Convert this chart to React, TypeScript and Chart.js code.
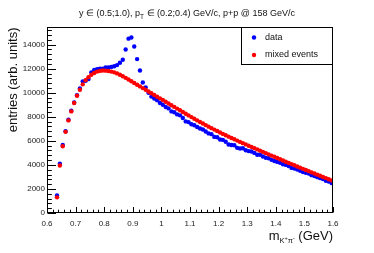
import React, { useEffect, useRef } from "react";
import { Chart, registerables } from "chart.js";

Chart.register(...registerables);

// ---- data ----
const massBins = [
  0.635, 0.645, 0.655, 0.665, 0.675, 0.685, 0.695, 0.705, 0.715, 0.725,
  0.735, 0.745, 0.755, 0.765, 0.775, 0.785, 0.795, 0.805, 0.815, 0.825,
  0.835, 0.845, 0.855, 0.865, 0.875, 0.885, 0.895, 0.905, 0.915, 0.925,
  0.935, 0.945, 0.955, 0.965, 0.975, 0.985, 0.995, 1.005, 1.015, 1.025,
  1.035, 1.045, 1.055, 1.065, 1.075, 1.085, 1.095, 1.105, 1.115, 1.125,
  1.135, 1.145, 1.155, 1.165, 1.175, 1.185, 1.195, 1.205, 1.215, 1.225,
  1.235, 1.245, 1.255, 1.265, 1.275, 1.285, 1.295, 1.305, 1.315, 1.325,
  1.335, 1.345, 1.355, 1.365, 1.375, 1.385, 1.395, 1.405, 1.415, 1.425,
  1.435, 1.445, 1.455, 1.465, 1.475, 1.485, 1.495, 1.505, 1.515, 1.525,
  1.535, 1.545, 1.555, 1.565, 1.575, 1.585, 1.595,
];

const dataCounts = [
  1450, 4100, 5650, 6800, 7750, 8500, 9200, 9800, 10350, 10950,
  11000, 11150, 11700, 11900, 11950, 12000, 12000, 12100, 12100, 12150,
  12200, 12300, 12500, 12750, 13600, 14500, 14600, 13850, 12800, 11850,
  10850, 10450, 10000, 9680, 9520, 9380, 9150, 9000, 8820, 8700,
  8450, 8380, 8200, 8120, 7900, 7620, 7560, 7380, 7300, 7150,
  7030, 6950, 6780, 6620, 6560, 6330, 6300, 6110, 6080, 5920,
  5700, 5650, 5640, 5420, 5360, 5380, 5220, 5150, 5120, 5000,
  4850, 4850, 4700, 4600, 4550, 4420, 4330, 4250, 4180, 4060,
  4000, 3900, 3750, 3700, 3620, 3520, 3400, 3350, 3280, 3150,
  3080, 2980, 2900, 2820, 2680, 2620, 2500,
];

const mixedCounts = [
  1300, 3950, 5550, 6750, 7700, 8450, 9150, 9750, 10250, 10700,
  11050, 11300, 11500, 11650, 11760, 11820, 11850, 11840, 11810, 11760,
  11700, 11610, 11500, 11375, 11240, 11098, 10956, 10814, 10672, 10530,
  10388, 10246, 10104, 9962, 9820, 9678, 9536, 9394, 9252, 9110,
  8968, 8826, 8684, 8542, 8400, 8258, 8116, 7976, 7838, 7703,
  7570, 7439, 7310, 7183, 7058, 6935, 6814, 6695, 6578, 6463,
  6350, 6239, 6130, 6022, 5915, 5809, 5704, 5599, 5496, 5393,
  5290, 5187, 5084, 4981, 4878, 4776, 4674, 4572, 4470, 4369,
  4268, 4167, 4066, 3968, 3870, 3772, 3674, 3577, 3480, 3383,
  3286, 3190, 3094, 2998, 2902, 2807, 2712,
];

const xMajorTicks = [0.6, 0.7, 0.8, 0.9, 1.0, 1.1, 1.2, 1.3, 1.4, 1.5, 1.6];
const xTickLabels = ["0.6", "0.7", "0.8", "0.9", "1", "1.1", "1.2", "1.3", "1.4", "1.5", "1.6"];
const xMinorStep = 0.02;
const yMajorTicks = [0, 2000, 4000, 6000, 8000, 10000, 12000, 14000];
const yTickLabels = ["0", "2000", "4000", "6000", "8000", "10000", "12000", "14000"];
const yMinorStep = 400;
const xRange = [0.6, 1.6];
const yRange = [0, 15470];

const legendLabels = ["data", "mixed events"];
const seriesColors = ["#0000ff", "#ff0000"];

const FONT = "'Liberation Sans', Arial, Helvetica, sans-serif";

type Part = { t: string; size: number; dy: number };

function richWidth(ctx: CanvasRenderingContext2D, parts: Part[]) {
  let w = 0;
  for (const p of parts) {
    ctx.font = `${p.size}px ${FONT}`;
    w += ctx.measureText(p.t).width;
  }
  return w;
}

function drawRich(ctx: CanvasRenderingContext2D, parts: Part[], x: number, y: number) {
  let cx = x;
  for (const p of parts) {
    ctx.font = `${p.size}px ${FONT}`;
    ctx.fillText(p.t, cx, y + p.dy);
    cx += ctx.measureText(p.t).width;
  }
}

const rootStyle = {
  id: "rootStyle",
  afterDraw(chart: any) {
    const { ctx, chartArea: a, scales } = chart;
    const xs = scales.x;
    const ys = scales.y;
    const L = Math.round(a.left) + 0.5;
    const R = Math.round(a.right) - 0.5;
    const T = Math.round(a.top) + 0.5;
    const B = Math.round(a.bottom) - 0.5;
    ctx.save();
    ctx.strokeStyle = "#000";
    ctx.fillStyle = "#000";
    ctx.lineWidth = 1;

    // frame
    ctx.strokeRect(L, T, R - L, B - T);

    // x ticks
    ctx.beginPath();
    for (let v = xRange[0]; v <= xRange[1] + 1e-9; v += xMinorStep) {
      const px = Math.round(xs.getPixelForValue(v)) + 0.5;
      const isMajor = xMajorTicks.some((m) => Math.abs(m - v) < 1e-6);
      const len = isMajor ? 5.5 : 2.8;
      ctx.moveTo(px, B);
      ctx.lineTo(px, B - len);
    }
    ctx.stroke();

    // y ticks
    ctx.beginPath();
    for (let v = yRange[0]; v <= yRange[1]; v += yMinorStep) {
      const py = Math.round(ys.getPixelForValue(v)) + 0.5;
      const isMajor = yMajorTicks.includes(v);
      const len = isMajor ? 8.5 : 4.3;
      ctx.moveTo(L, py);
      ctx.lineTo(L + len, py);
    }
    ctx.stroke();

    // tick labels
    ctx.font = `8px ${FONT}`;
    ctx.fillStyle = "#222";
    ctx.textAlign = "center";
    ctx.textBaseline = "alphabetic";
    xMajorTicks.forEach((v, i) => {
      ctx.fillText(xTickLabels[i], xs.getPixelForValue(v), 226);
    });
    ctx.textAlign = "right";
    ctx.textBaseline = "middle";
    yMajorTicks.forEach((v, i) => {
      ctx.fillText(yTickLabels[i], L - 2.5, ys.getPixelForValue(v));
    });

    // title
    ctx.fillStyle = "#111";
    ctx.textAlign = "left";
    ctx.textBaseline = "alphabetic";
    const titleParts: Part[] = [
      { t: "y \u2208 (0.5;1.0), p", size: 9, dy: 0 },
      { t: "T", size: 6.5, dy: 2.5 },
      { t: " \u2208 (0.2;0.4) GeV/c, p+p @ 158 GeV/c", size: 9, dy: 0 },
    ];
    const tw = richWidth(ctx, titleParts);
    drawRich(ctx, titleParts, 187 - tw / 2, 16);

    // x axis title
    const xtParts: Part[] = [
      { t: "m", size: 13, dy: 0 },
      { t: "K", size: 7.5, dy: 3 },
      { t: "+", size: 5.5, dy: -0.5 },
      { t: "\u03c0", size: 7.5, dy: 3 },
      { t: "-", size: 5.5, dy: -0.5 },
      { t: " (GeV)", size: 13, dy: 0 },
    ];
    const xw = richWidth(ctx, xtParts);
    drawRich(ctx, xtParts, R + 0.5 - xw, 240);

    // y axis title
    ctx.save();
    ctx.translate(17, T);
    ctx.rotate(-Math.PI / 2);
    ctx.font = `13px ${FONT}`;
    ctx.textAlign = "right";
    ctx.textBaseline = "alphabetic";
    ctx.fillText("entries (arb. units)", 0, 0);
    ctx.restore();

    // legend
    const lx0 = 241.5;
    const ly1 = 64.5;
    ctx.fillStyle = "#fff";
    ctx.fillRect(lx0, T, R - lx0, ly1 - T);
    ctx.strokeStyle = "#000";
    ctx.strokeRect(lx0, T, R - lx0, ly1 - T);
    const rowY = [37.5, 55];
    legendLabels.forEach((lab, i) => {
      ctx.fillStyle = seriesColors[i];
      ctx.beginPath();
      ctx.arc(254, rowY[i], 2.2, 0, Math.PI * 2);
      ctx.fill();
      ctx.fillStyle = "#111";
      ctx.font = `9px ${FONT}`;
      ctx.textAlign = "left";
      ctx.textBaseline = "middle";
      ctx.fillText(lab, 265, rowY[i]);
    });

    ctx.restore();
  },
};

export default function App() {
  const ref = useRef<HTMLCanvasElement | null>(null);

  useEffect(() => {
    document.body.style.margin = "0";
    const canvas = ref.current;
    if (!canvas) return;
    const chart = new Chart(canvas, {
      type: "scatter",
      data: {
        datasets: [
          {
            label: legendLabels[0],
            data: massBins.map((x, i) => ({ x, y: dataCounts[i] })),
            backgroundColor: seriesColors[0],
            borderWidth: 0,
            pointRadius: 2.2,
            order: 1,
          },
          {
            label: legendLabels[1],
            data: massBins.map((x, i) => ({ x, y: mixedCounts[i] })),
            backgroundColor: seriesColors[1],
            borderWidth: 0,
            pointRadius: 2.2,
            order: 0,
          },
        ],
      },
      options: {
        responsive: false,
        animation: false,
        devicePixelRatio: 1,
        layout: { padding: { left: 47, right: 41, top: 27, bottom: 40 } },
        plugins: { legend: { display: false }, tooltip: { enabled: false }, title: { display: false } },
        scales: {
          x: { type: "linear", min: xRange[0], max: xRange[1], display: false },
          y: { type: "linear", min: yRange[0], max: yRange[1], display: false },
        },
      },
      plugins: [rootStyle],
    });
    return () => chart.destroy();
  }, []);

  return (
    <div style={{ position: "absolute", left: 0, top: 0, width: 374, height: 253, background: "#fff" }}>
      <canvas ref={ref} width={374} height={253} style={{ display: "block" }} />
    </div>
  );
}
